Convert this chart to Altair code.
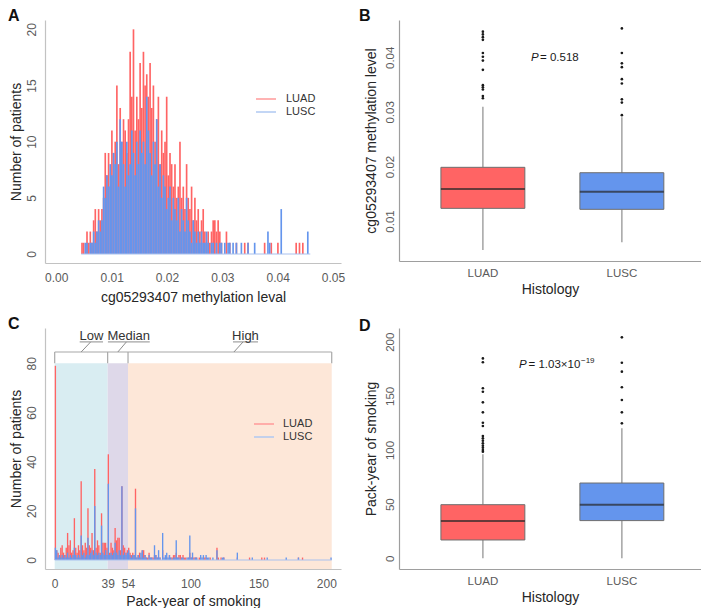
import altair as alt
import pandas as pd

FONT = "Liberation Sans"
RED = "#FF6464"
BLUE = "#6495ED"
GROUPS = ["LUAD", "LUSC"]
GROUP_FILLS = [RED, BLUE]

# ---------------- Panel A: methylation histogram ----------------
meth_bin_start = 0.0045
meth_bin_width = 0.0003
luad_meth_counts = [
    1, 1, 0, 2, 1, 2, 1, 3, 4, 2,
    4, 3, 4, 5, 9, 7, 9, 6, 11, 9,
    10, 15, 8, 13, 10, 12, 11, 9, 12, 18,
    14, 20, 11, 14, 12, 17, 13, 18, 15, 16,
    14, 17, 13, 15, 10, 12, 14, 8, 11, 9,
    10, 14, 7, 9, 8, 6, 8, 5, 6, 10,
    5, 6, 4, 8, 5, 4, 6, 3, 5, 3,
    4, 2, 3, 4, 2, 1, 2, 1, 2, 3,
    3, 2, 3, 2, 1, 0, 0, 2, 0, 1,
    0, 0, 0, 1, 0, 0, 0, 0, 1, 0,
    1, 0, 0, 0, 0, 0, 0, 0, 0, 0,
    1, 0, 0, 0, 1, 0, 0, 0, 1, 0,
    0, 0, 0, 0, 0, 0, 0, 0, 0, 1,
    0, 1, 0, 1, 0, 0, 0, 0,
]
lusc_meth_counts = [
    0, 0, 1, 1, 0, 1, 1, 2, 1, 2,
    3, 2, 3, 6, 5, 7, 6, 8, 7, 9,
    8, 10, 6, 12, 10, 8, 6, 10, 7, 8,
    11, 9, 7, 10, 8, 11, 9, 10, 8, 14,
    11, 9, 7, 10, 8, 12, 6, 8, 5, 7,
    6, 4, 5, 6, 3, 5, 4, 3, 5, 2,
    4, 3, 2, 5, 3, 2, 1, 3, 2, 1,
    2, 1, 2, 1, 1, 2, 1, 0, 1, 1,
    0, 1, 0, 1, 1, 0, 1, 0, 1, 1,
    0, 1, 0, 1, 0, 0, 1, 0, 0, 0,
    1, 0, 0, 0, 1, 0, 0, 0, 0, 0,
    0, 0, 2, 1, 0, 0, 0, 0, 0, 0,
    4, 0, 0, 0, 0, 0, 0, 0, 0, 0,
    0, 0, 0, 0, 0, 0, 2, 0,
]

# ---------------- Panel B: methylation box plot ----------------
meth_q1 = [0.01232, 0.01214]
meth_median = [0.01586, 0.01537]
meth_q3 = [0.01984, 0.01885]
meth_lower = [0.00468, 0.00609]
meth_upper = [0.03095, 0.02902]
luad_meth_outliers = [0.0325, 0.0329, 0.0341, 0.0345, 0.0349, 0.0377, 0.0394,
                      0.0401, 0.0408, 0.0432, 0.0437, 0.0442, 0.0447]
lusc_meth_outliers = [0.0294, 0.0317, 0.0323, 0.0352, 0.0360, 0.0382, 0.0389,
                      0.0408, 0.0453]

# ---------------- Panel C: pack-year histogram (bins (k-1, k]) ----------------
luad_pack_bins = [1, 2, 3, 4, 5, 6, 7, 8, 9, 10, 11, 12, 13, 14, 15, 16, 17, 18, 19, 20,
                  21, 22, 23, 24, 25, 26, 27, 28, 29, 30, 31, 32, 33, 34, 35, 36, 37, 38, 39, 40,
                  41, 42, 43, 44, 45, 46, 47, 48, 49, 50, 51, 52, 53, 54, 55, 56, 57, 58, 59, 60,
                  61, 62, 63, 64, 65, 66, 67, 68, 69, 70, 71, 72, 73, 74, 75, 76, 78, 80, 82, 83,
                  85, 86, 87, 88, 89, 90, 91, 92, 93, 94, 95, 96, 97, 99, 100, 101, 102, 103, 104, 105,
                  107, 108, 110, 111, 112, 115, 120, 121, 123, 125, 135, 144, 153, 155, 180, 183]
luad_pack_counts = [79, 4, 3, 2, 5, 6, 3, 2, 5, 11, 6, 8, 3, 4, 17, 5, 3, 6, 4, 32,
                    6, 4, 7, 5, 21, 6, 5, 11, 4, 37, 5, 8, 6, 3, 19, 7, 7, 7, 5, 43,
                    3, 7, 5, 4, 13, 8, 9, 9, 4, 30, 6, 5, 3, 4, 5, 3, 2, 3, 2, 29,
                    1, 2, 3, 1, 4, 4, 2, 1, 1, 3, 1, 1, 1, 2, 2, 1, 1, 4, 1, 1,
                    2, 1, 1, 2, 2, 3, 1, 2, 2, 1, 2, 1, 1, 1, 3, 1, 1, 1, 1, 1,
                    1, 1, 1, 1, 1, 1, 5, 1, 1, 1, 1, 1, 1, 1, 1, 1]
lusc_pack_bins = [1, 2, 3, 4, 5, 6, 7, 8, 9, 10, 11, 12, 13, 14, 15, 16, 17, 18, 19, 20,
                  21, 22, 23, 24, 25, 26, 27, 28, 29, 30, 31, 32, 33, 34, 35, 36, 37, 38, 39, 40,
                  41, 42, 43, 44, 45, 46, 47, 48, 49, 50, 51, 52, 53, 54, 55, 56, 57, 58, 59, 60,
                  61, 62, 63, 64, 65, 66, 67, 68, 70, 71, 72, 74, 75, 76, 77, 78, 80, 81, 82, 83,
                  84, 85, 86, 88, 89, 90, 91, 92, 94, 95, 98, 99, 100, 101, 102, 104, 105, 108, 109, 110,
                  112, 113, 114, 117, 120, 124, 125, 135, 146, 157, 171, 180, 204]
lusc_pack_counts = [5, 4, 1, 2, 1, 2, 1, 2, 1, 3, 1, 2, 1, 2, 5, 2, 1, 2, 1, 10,
                    2, 3, 1, 2, 9, 2, 3, 4, 2, 22, 3, 2, 3, 2, 14, 3, 2, 4, 2, 31,
                    2, 3, 2, 3, 7, 3, 2, 4, 2, 30, 2, 3, 2, 3, 4, 2, 1, 2, 2, 21,
                    1, 2, 1, 3, 4, 1, 2, 1, 2, 1, 1, 6, 2, 1, 4, 1, 11, 1, 2, 3,
                    1, 2, 1, 1, 1, 8, 1, 1, 1, 1, 1, 1, 10, 1, 3, 1, 1, 2, 1, 2,
                    2, 1, 1, 1, 4, 1, 1, 3, 1, 1, 1, 1, 1]
tertile_edges = [0, 39, 54, 204]
tertile_names = ["Low", "Median", "High"]
tertile_fills = ["#D9EDF2", "#DED8E9", "#FDE7D8"]
tertile_label_x = [27.0, 54.5, 140.5]
tertile_underline_start = [18.4, 39.2, 131.3]
tertile_underline_end = [35.6, 70.0, 149.7]
tertile_segment_from = [26.5, 52.8, 138.7]
tertile_segment_to = [19.5, 46.5, 132.0]

# ---------------- Panel D: pack-year box plot ----------------
pack_q1 = [16.9, 34.8]
pack_median = [34.4, 49.5]
pack_q3 = [49.5, 69.5]
pack_lower = [0, 0]
pack_upper = [96, 120]
luad_pack_outliers = [98.4, 100, 102.1, 104, 106.2, 108.6, 110.8, 112.9, 122.2, 125.2,
                      134.8, 144, 153.8, 157, 181, 184.6]
lusc_pack_outliers = [124.6, 134.8, 146.2, 157.9, 172.3, 180.6, 204]


def axis(**kw):
    base = dict(grid=False, ticks=False, tickSize=0, domainColor="#C2C2C2", domainWidth=1.2,
                labelColor="#5A5A5A", labelFontSize=12, titleColor="#262626", titleFontSize=14,
                titleFontWeight="normal", labelFont=FONT, titleFont=FONT, labelFlush=False)
    base.update(kw)
    return alt.Axis(**base)


def letter(ch, dx, dy):
    return alt.Chart(pd.DataFrame({"t": [ch]})).mark_text(
        align="left", baseline="top", fontSize=16, fontWeight="bold", font=FONT, color="#111111"
    ).encode(x=alt.value(dx), y=alt.value(dy), text="t:N")


def legend_entry(label, color, x_line, y, x_text):
    df = pd.DataFrame({"t": [label]})
    line = alt.Chart(df).mark_rule(color=color, strokeWidth=1.5).encode(
        x=alt.value(x_line), x2=alt.value(x_line + 20), y=alt.value(y))
    txt = alt.Chart(df).mark_text(align="left", baseline="middle", fontSize=11, font=FONT,
                                  color="#333333").encode(
        x=alt.value(x_text), y=alt.value(y), text="t:N")
    return line + txt


# ================= Panel A =================
WA, HA = 296, 243
xA = alt.Scale(domain=[-0.00204, 0.05145], nice=False, zero=False)
yA = alt.Scale(domain=[-0.80, 20.83], nice=False, zero=False)


def meth_df(counts):
    rows = [(meth_bin_start + meth_bin_width * i, meth_bin_start + meth_bin_width * (i + 1), c)
            for i, c in enumerate(counts) if c > 0]
    return pd.DataFrame(rows, columns=["x0", "x1", "n"])


axA_x = axis(values=[0, 0.01, 0.02, 0.03, 0.04, 0.05], format=".2f",
             title="cg05293407 methylation leval", labelPadding=9, titlePadding=7)
axA_y = axis(values=[0, 5, 10, 15, 20], labelAngle=270, labelAlign="center",
             labelBaseline="bottom", title="Number of patients", labelPadding=7, titlePadding=2)

redA = alt.Chart(meth_df(luad_meth_counts)).mark_bar(color=RED).encode(
    x=alt.X("x0:Q", scale=xA, axis=axA_x), x2="x1:Q",
    y=alt.Y("n:Q", scale=yA, axis=axA_y), y2=alt.datum(0))
blueA = alt.Chart(meth_df(lusc_meth_counts)).mark_bar(color=BLUE).encode(
    x=alt.X("x0:Q", scale=xA), x2="x1:Q", y=alt.Y("n:Q", scale=yA), y2=alt.datum(0))
baseA = alt.Chart(pd.DataFrame({
    "x0": [meth_bin_start], "x1": [meth_bin_start + meth_bin_width * len(luad_meth_counts)]
})).mark_rule(color="#A9C1EE", strokeWidth=1).encode(
    x=alt.X("x0:Q", scale=xA), x2="x1:Q", y=alt.datum(0))

panelA = alt.layer(
    redA, blueA, baseA,
    legend_entry("LUAD", "#FF9A9A", 211, 79, 241),
    legend_entry("LUSC", "#AFC8F2", 211, 92, 241),
    letter("A", -37, -12),
).properties(width=WA, height=HA)


# ================= Box plot helper =================
def box_panel(q1, med, q3, lo, hi, out_luad, out_lusc, ydomain, yvalues, yformat, ytitle,
              W, H, ptext_nodes, letter_ch, letter_dy):
    box_df = pd.DataFrame({"grp": GROUPS, "fill": GROUP_FILLS, "q1": q1, "med": med,
                           "q3": q3, "lo": lo, "hi": hi})
    out_df = pd.DataFrame({"grp": ["LUAD"] * len(out_luad) + ["LUSC"] * len(out_lusc),
                           "v": out_luad + out_lusc})
    xs = alt.Scale(domain=GROUPS, paddingInner=0.396, paddingOuter=0.2845, align=0.53)
    ys = alt.Scale(domain=ydomain, nice=False, zero=False)
    axx = axis(title="Histology", labelPadding=6.5, titlePadding=3.5, labelAngle=0,
               labelFontSize=11.5, domainColor="#9E9E9E")
    axy_kw = dict(values=yvalues, labelAngle=270, labelAlign="center", labelBaseline="bottom",
                  title=ytitle, labelPadding=4, titlePadding=5.5, labelFontSize=11.5,
                  domainColor="#9E9E9E")
    if yformat:
        axy_kw["format"] = yformat
    axy = axis(**axy_kw)

    wh_lo = alt.Chart(box_df).mark_rule(color="#A3A3A3", strokeWidth=1.5).encode(
        x=alt.X("grp:N", scale=xs, axis=axx), y=alt.Y("lo:Q", scale=ys, axis=axy), y2="q1:Q")
    wh_hi = alt.Chart(box_df).mark_rule(color="#A3A3A3", strokeWidth=1.5).encode(
        x=alt.X("grp:N", scale=xs), y=alt.Y("q3:Q", scale=ys), y2="hi:Q")
    box = alt.Chart(box_df).mark_bar(stroke="#6E6E6E", strokeWidth=1).encode(
        x=alt.X("grp:N", scale=xs), y=alt.Y("q1:Q", scale=ys), y2="q3:Q",
        fill=alt.Fill("fill:N", scale=None))
    med_t = alt.Chart(box_df).mark_tick(color="#262626", size=84, thickness=2).encode(
        x=alt.X("grp:N", scale=xs), y=alt.Y("med:Q", scale=ys))
    pts = alt.Chart(out_df).mark_circle(color="#1A1A1A", size=7, opacity=1).encode(
        x=alt.X("grp:N", scale=xs), y=alt.Y("v:Q", scale=ys))
    layers = [wh_lo, wh_hi, box, med_t, pts]
    for (txt, px, py, fs, style) in ptext_nodes:
        layers.append(alt.Chart(pd.DataFrame({"t": [txt]})).mark_text(
            align="left", baseline="middle", fontSize=fs, font=FONT, fontStyle=style,
            color="#1A1A1A").encode(x=alt.value(px), y=alt.value(py), text="t:N"))
    layers.append(letter(letter_ch, -40, letter_dy))
    return alt.layer(*layers).properties(width=W, height=H)


panelB = box_panel(meth_q1, meth_median, meth_q3, meth_lower, meth_upper,
                   luad_meth_outliers, lusc_meth_outliers,
                   [0.00267, 0.04684], [0.01, 0.02, 0.03, 0.04], ".2f",
                   "cg05293407 methylation level", 302, 241,
                   [("P", 132, 38, 11.5, "italic"), ("= 0.518", 141, 38, 11.5, "normal")],
                   "B", -12)

# ================= Panel C =================
WC, HC = 296, 241
xC = alt.Scale(domain=[-7.14, 210.83], nice=False, zero=False)
yC = alt.Scale(domain=[-3.66, 94.36], nice=False, zero=False)


def pack_df(bins, counts):
    return pd.DataFrame({"x0": [max(b - 1, 0) for b in bins], "x1": bins, "n": counts})


axC_x = axis(values=[0, 39, 54, 100, 150, 200], title="Pack-year of smoking",
             labelPadding=9, titlePadding=5)
axC_y = axis(values=[0, 20, 40, 60, 80], labelAngle=270, labelAlign="center",
             labelBaseline="bottom", title="Number of patients", labelPadding=7, titlePadding=2)

tert_df = pd.DataFrame({"name": tertile_names, "fill": tertile_fills,
                        "start": tertile_edges[:-1], "end": tertile_edges[1:],
                        "lx": tertile_label_x,
                        "u0": tertile_underline_start, "u1": tertile_underline_end,
                        "s0": tertile_segment_from, "s1": tertile_segment_to})
bg = alt.Chart(tert_df).mark_rect().encode(
    x=alt.X("start:Q", scale=xC, axis=axC_x), x2="end:Q",
    y=alt.Y(datum=80, scale=yC, axis=axC_y), y2=alt.value(HC),
    fill=alt.Fill("fill:N", scale=None))
redC = alt.Chart(pack_df(luad_pack_bins, luad_pack_counts)).mark_bar(color=RED).encode(
    x=alt.X("x0:Q", scale=xC), x2="x1:Q", y=alt.Y("n:Q", scale=yC), y2=alt.datum(0))
blueC = alt.Chart(pack_df(lusc_pack_bins, lusc_pack_counts)).mark_bar(color=BLUE).encode(
    x=alt.X("x0:Q", scale=xC), x2="x1:Q", y=alt.Y("n:Q", scale=yC), y2=alt.datum(0))
baseC = alt.Chart(pd.DataFrame({"x0": [tertile_edges[0]], "x1": [tertile_edges[-1]]})).mark_rule(
    color="#A9C1EE", strokeWidth=1).encode(x=alt.X("x0:Q", scale=xC), x2="x1:Q", y=alt.datum(0))

BR_Y, UL_Y, LB_Y = 84.6, 88.7, 91.1
br_h = alt.Chart(pd.DataFrame({"x0": [tertile_edges[0]], "x1": [tertile_edges[-1]]})).mark_rule(
    color="#A8A8A8", strokeWidth=1.2).encode(x=alt.X("x0:Q", scale=xC), x2="x1:Q", y=alt.datum(BR_Y))
br_v = alt.Chart(pd.DataFrame({"e": tertile_edges})).mark_rule(
    color="#A8A8A8", strokeWidth=1.2).encode(
    x=alt.X("e:Q", scale=xC), y=alt.datum(80), y2=alt.datum(BR_Y))
ul = alt.Chart(tert_df).mark_rule(color="#8C8C8C", strokeWidth=1).encode(
    x=alt.X("u0:Q", scale=xC), x2="u1:Q", y=alt.datum(UL_Y))
seg = alt.Chart(tert_df).mark_rule(color="#8C8C8C", strokeWidth=1).encode(
    x=alt.X("s0:Q", scale=xC), x2="s1:Q", y=alt.datum(UL_Y), y2=alt.datum(BR_Y))
lab = alt.Chart(tert_df).mark_text(fontSize=13, font=FONT, color="#333333", baseline="middle").encode(
    x=alt.X("lx:Q", scale=xC), y=alt.datum(LB_Y), text="name:N")

panelC = alt.layer(
    bg, redC, blueC, baseC, br_h, br_v, ul, seg, lab,
    legend_entry("LUAD", "#FF9A9A", 209, 96, 238),
    legend_entry("LUSC", "#AFC8F2", 209, 109, 238),
    letter("C", -37, -12),
).properties(width=WC, height=HC)

# ================= Panel D =================
panelD = box_panel(pack_q1, pack_median, pack_q3, pack_lower, pack_upper,
                   luad_pack_outliers, lusc_pack_outliers,
                   [-9.9, 212.65], [0, 50, 100, 150, 200], None,
                   "Pack-year of smoking", 302, 241,
                   [("P", 120, 37, 11.5, "italic"), ("= 1.03×10", 129.5, 37, 11.5, "normal"),
                    ("−19", 182, 33, 8, "normal")],
                   "D", -10)

chart = alt.ConcatChart(
    concat=[panelA, panelB, panelC, panelD], columns=2,
    spacing=alt.RowColnumber(row=65, column=58), bounds="flush",
).resolve_scale(x="independent", y="independent").properties(
    padding=0
).configure(font=FONT).configure_view(stroke=None)

chart.save("out.html", embed_options={"renderer": "svg", "actions": False})
